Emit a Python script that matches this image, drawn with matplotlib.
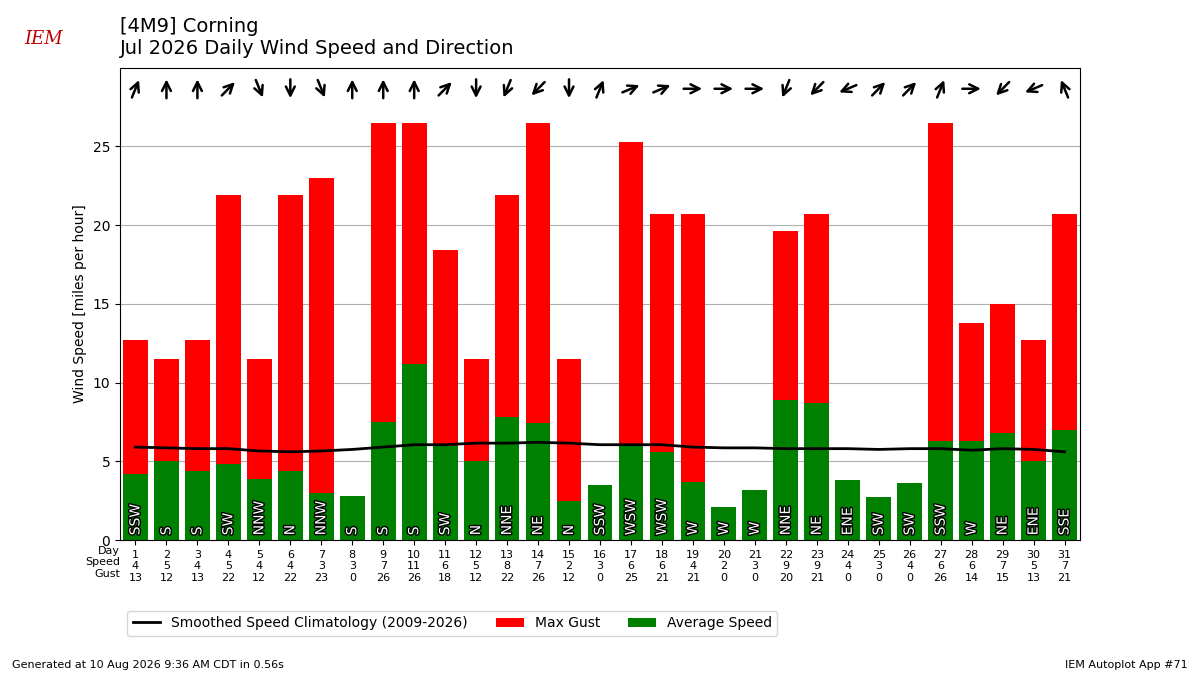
import numpy as np
import matplotlib.pyplot as plt
import matplotlib.patheffects as pe

days = np.arange(1, 32)
avg = [4.2, 5.0, 4.4, 4.8, 3.9, 4.4, 3.0, 2.8, 7.5, 11.2, 6.0, 5.0, 7.8, 7.4,
       2.5, 3.5, 6.0, 5.6, 3.7, 2.1, 3.2, 8.9, 8.7, 3.8, 2.7, 3.6, 6.3, 6.3,
       6.8, 5.0, 7.0]
speed = [4, 5, 4, 5, 4, 4, 3, 3, 7, 11, 6, 5, 8, 7, 2, 3, 6, 6, 4, 2, 3, 9, 9,
         4, 3, 4, 6, 6, 7, 5, 7]
gust = [12.7, 11.5, 12.7, 21.9, 11.5, 21.9, 23.0, 0, 26.5, 26.5, 18.4, 11.5,
        21.9, 26.5, 11.5, 0, 25.3, 20.7, 20.7, 0, 0, 19.6, 20.7, 0, 0, 0,
        26.5, 13.8, 15.0, 12.7, 20.7]
clim = [5.9, 5.85, 5.8, 5.8, 5.65, 5.6, 5.65, 5.75, 5.9, 6.05, 6.05, 6.15,
        6.15, 6.2, 6.15, 6.05, 6.05, 6.05, 5.9, 5.85, 5.85, 5.8, 5.8, 5.8,
        5.75, 5.8, 5.8, 5.7, 5.8, 5.75, 5.6]
dirs = ['SSW', 'S', 'S', 'SW', 'NNW', 'N', 'NNW', 'S', 'S', 'S', 'SW', 'N',
        'NNE', 'NE', 'N', 'SSW', 'WSW', 'WSW', 'W', 'W', 'W', 'NNE', 'NE',
        'ENE', 'SW', 'SW', 'SSW', 'W', 'NE', 'ENE', 'SSE']
compass = ['N', 'NNE', 'NE', 'ENE', 'E', 'ESE', 'SE', 'SSE',
           'S', 'SSW', 'SW', 'WSW', 'W', 'WNW', 'NW', 'NNW']

fig = plt.figure(figsize=(12, 6.75), dpi=100)
ax = fig.add_axes([0.1, 0.2, 0.8, 0.7])
ax.bar(days, gust, width=0.8, color='r', label='Max Gust')
ax.bar(days, avg, width=0.8, color='g', label='Average Speed')
ax.plot(days, clim, color='k', lw=2,
        label='Smoothed Speed Climatology (2009-2026)')
for d, dr in zip(days, dirs):
    ax.text(d, 0.3, dr, rotation=90, ha='center', va='bottom', color='white',
            fontsize=10,
            path_effects=[pe.withStroke(linewidth=2, foreground='k')])
    # arrows point downwind
    toward = np.radians(compass.index(dr)*22.5 + 180)
    dx, dy = 0.3*np.sin(toward), 0.02*np.cos(toward)
    ax.annotate('', xy=(d + dx, 0.955 + dy), xytext=(d - dx, 0.955 - dy),
                xycoords=('data', 'axes fraction'),
                textcoords=('data', 'axes fraction'),
                arrowprops=dict(arrowstyle='->', lw=1.8, color='k',
                                mutation_scale=16, shrinkA=0, shrinkB=0))
ax.set_xlim(0.5, 31.5)
ax.set_ylim(0, 30)
ax.set_yticks([0, 5, 10, 15, 20, 25])
ax.set_xticks(days)
ax.set_xticklabels(['%d\n%d\n%.0f' % (d, s, g)
                    for d, s, g in zip(days, speed, gust)], fontsize=8)
ax.text(0.0, -0.012, 'Day\nSpeed\nGust', transform=ax.transAxes,
        ha='right', va='top', fontsize=8)
ax.grid(axis='y')
ax.set_axisbelow(True)
ax.set_ylabel('Wind Speed [miles per hour]')
h, l = ax.get_legend_handles_labels()
ax.legend(h, l, ncol=3, loc='upper left', bbox_to_anchor=(0.0, -0.135))
fig.text(0.1, 0.92, '[4M9] Corning\nJul 2026 Daily Wind Speed and Direction',
         fontsize=14)
fig.text(0.01, 0.01, 'Generated at 10 Aug 2026 9:36 AM CDT in 0.56s',
         fontsize=8)
fig.text(0.99, 0.01, 'IEM Autoplot App #71', fontsize=8, ha='right')
fig.text(0.02, 0.935, 'IEM', color='#c00000', fontsize=13,
         family='serif', style='italic')
plt.savefig('out.png')
plt.close()
